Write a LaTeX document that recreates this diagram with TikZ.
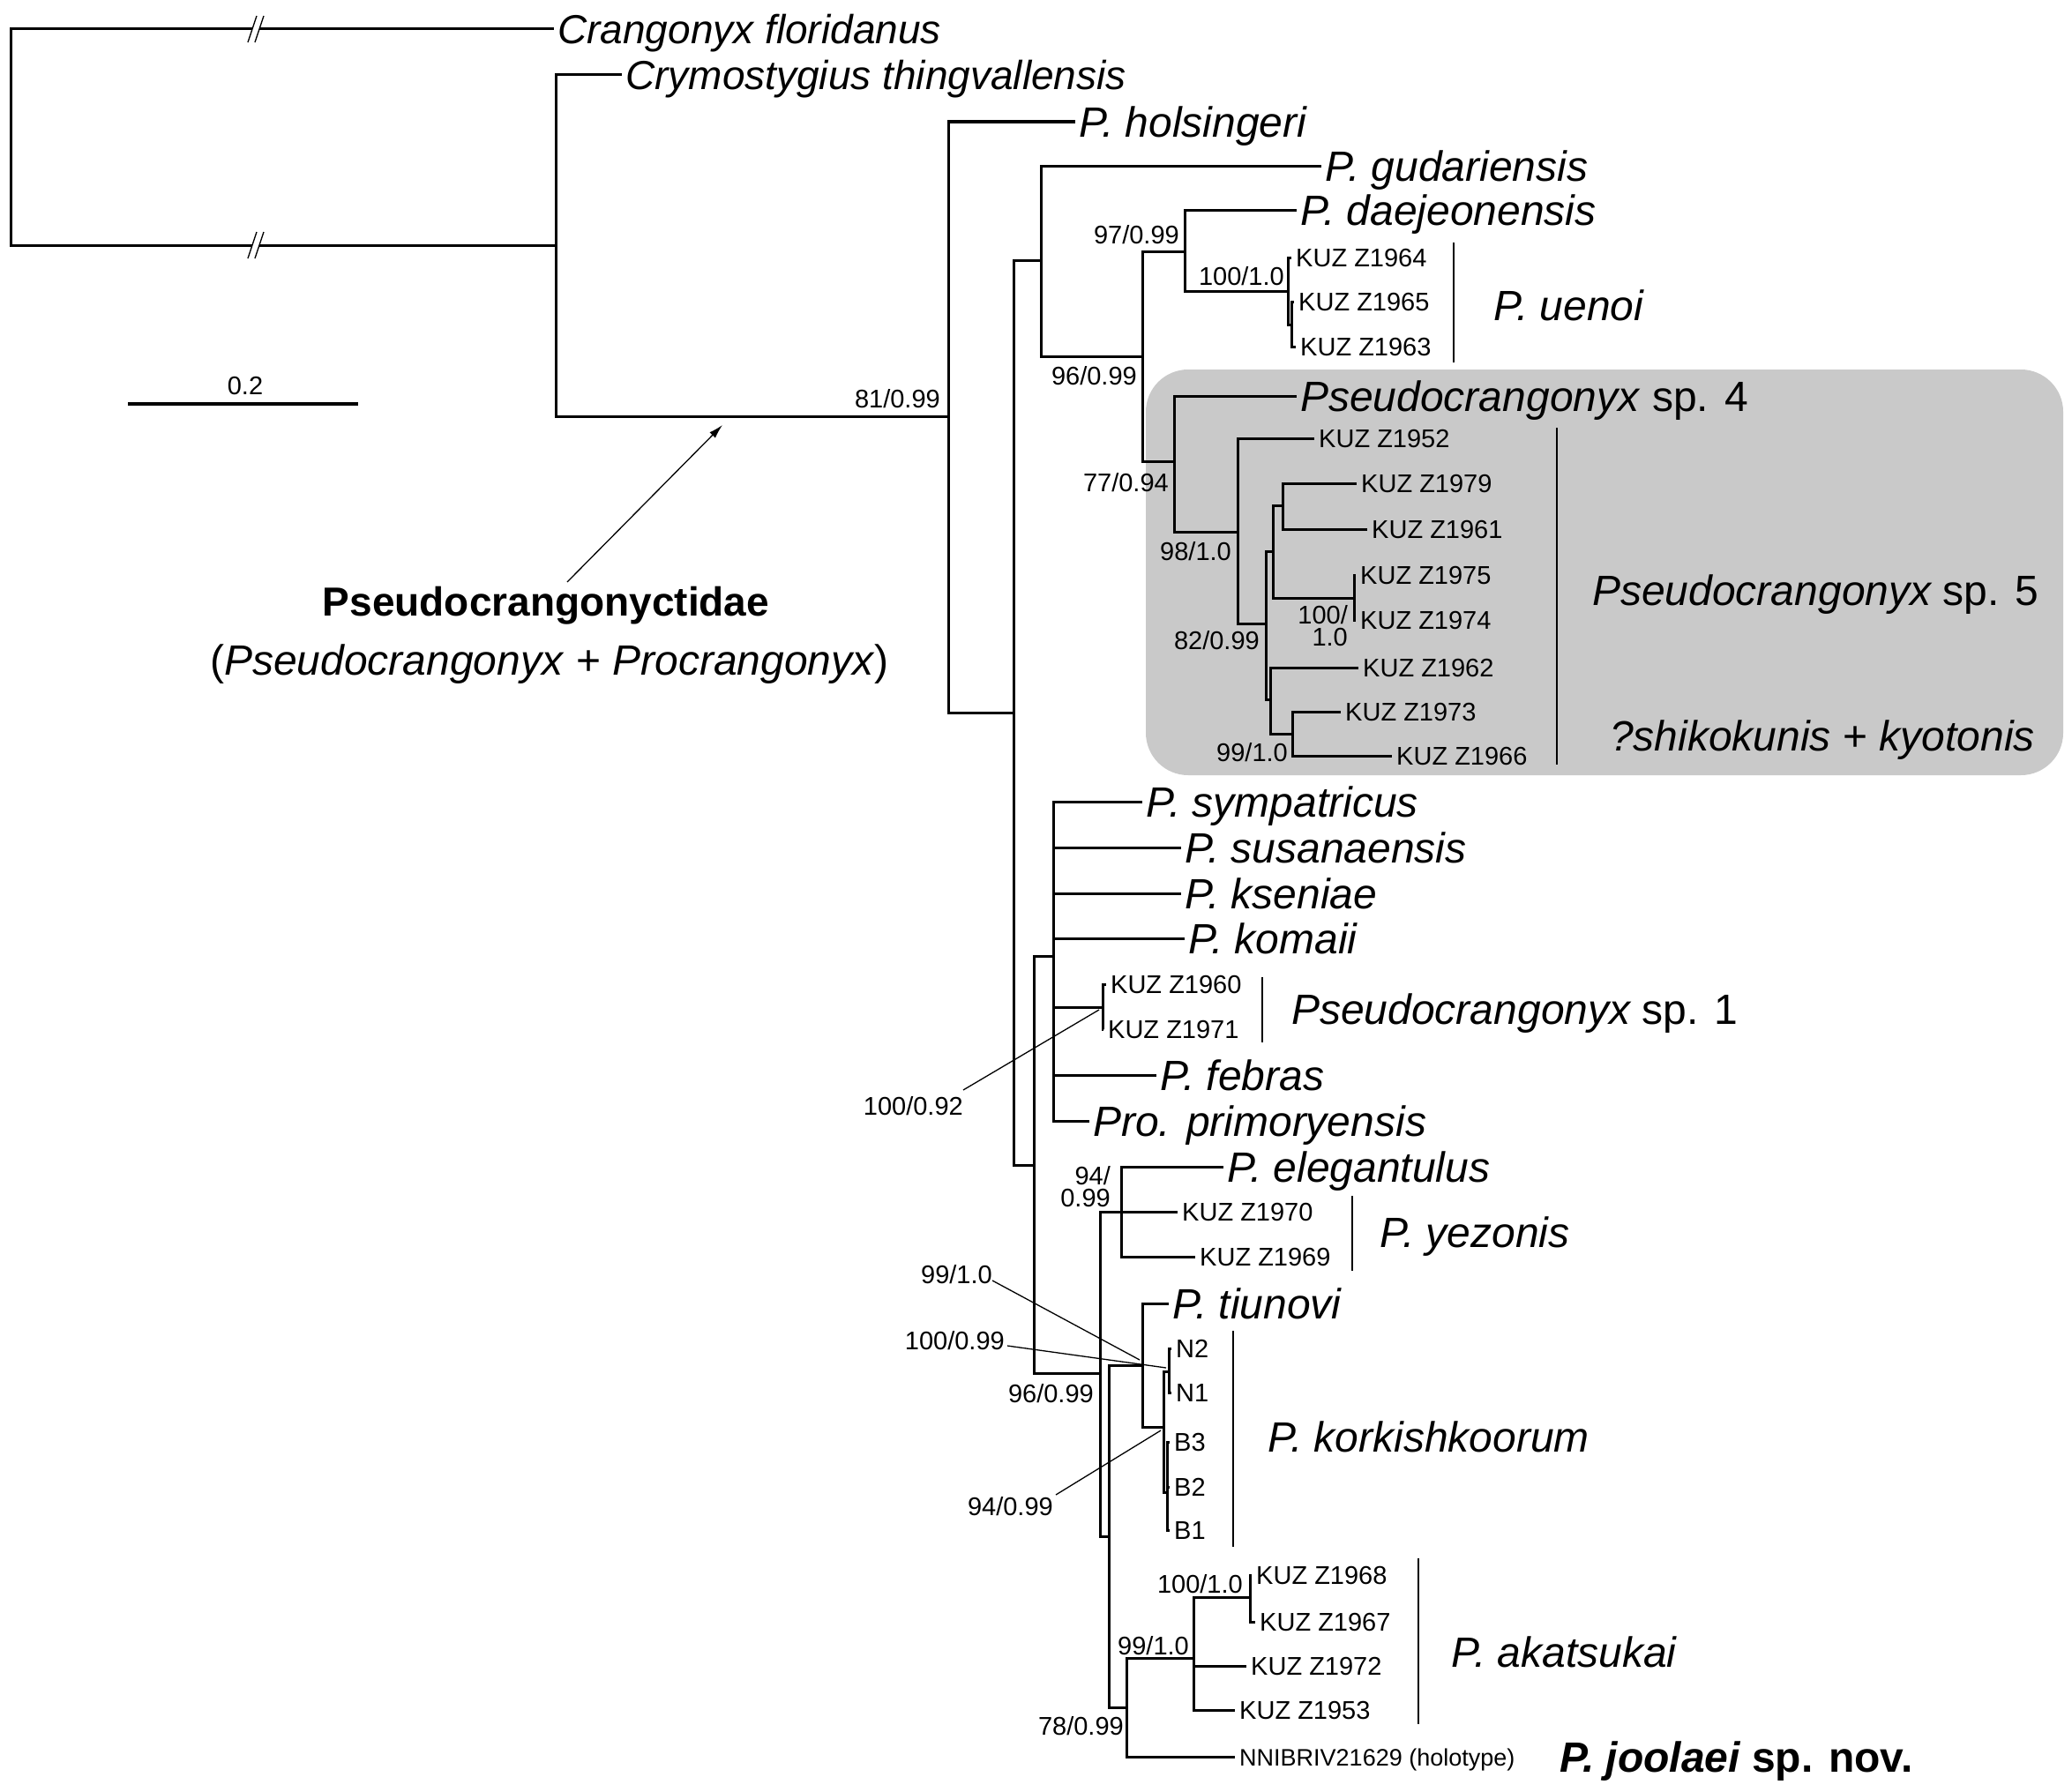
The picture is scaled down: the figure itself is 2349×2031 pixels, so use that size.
\documentclass[tikz,border=0pt]{standalone}
\usepackage{fontspec}
\setmainfont{Liberation Sans}
\usetikzlibrary{arrows.meta,calc}
\newcommand\myfA{\fontsize{48}{56}\selectfont}
\newcommand\myfB{\fontsize{46}{54}\selectfont}
\newcommand\myfS{\fontsize{29}{34}\selectfont}
\newcommand\myfT{\fontsize{27}{32}\selectfont}
\definecolor{boxgray}{RGB}{201,201,201}
\begin{document}
\begin{tikzpicture}[x=1pt,y=-1pt,
 br/.style={line width=3pt},
 cbar/.style={line width=1.6pt},
 lead/.style={line width=1.3pt},
 spA/.style={font=\myfA\itshape, anchor=west, inner xsep=4pt, inner ysep=0pt, text height=34pt, text depth=0pt},
 spB/.style={font=\myfB\itshape, anchor=west, inner xsep=4pt, inner ysep=0pt, text height=33pt, text depth=0pt},
 kuz/.style={font=\myfS, anchor=west, inner xsep=5pt, inner ysep=0pt, text height=21pt, text depth=0pt},
 sup/.style={font=\myfS, anchor=east, inner sep=0pt, text height=21pt, text depth=0pt},
 cladeL/.style={font=\myfA, anchor=west, inner sep=0pt, text height=34pt, text depth=0pt},
]
\useasboundingbox (0,0) rectangle (2349,2031);
% grey box
\fill[boxgray, rounded corners=48pt] (1299,419) rectangle (2339,879);

% ---------- internal nodes ----------
\coordinate (root) at (12,155);
\coordinate (nA) at (630,278);
\coordinate (nB) at (1075,472);
\coordinate (nC) at (1149,808);
\coordinate (nD) at (1180,295);
\coordinate (nE) at (1295,404);
\coordinate (nF) at (1343,285);
\coordinate (nG) at (1460,330);
\coordinate (nG2) at (1464,368);
\coordinate (nH) at (1331,523);
\coordinate (nI) at (1403,603);
\coordinate (nJ) at (1435,707);
\coordinate (nK) at (1443,625);
\coordinate (nL) at (1454,573);
\coordinate (nM) at (1535,678);
\coordinate (nN) at (1440,793);
\coordinate (nO) at (1465,832);
\coordinate (nP) at (1172,1321);
\coordinate (nQ) at (1194,1084);
\coordinate (nS1) at (1250,1142);
\coordinate (nR) at (1247,1557);
\coordinate (nT) at (1271,1374);
\coordinate (nU) at (1257,1742);
\coordinate (nV) at (1295,1548);
\coordinate (nW) at (1319,1618);
\coordinate (nX) at (1325,1555);
\coordinate (nY) at (1323,1692);
\coordinate (nZ) at (1277,1936);
\coordinate (nAA) at (1353,1880);
\coordinate (nAB) at (1417,1811);

% ---------- tips ----------
\node[spB] (tCra) at (628,33) {Crangonyx floridanus};
\node[spB] (tCry) at (705,85) {Crymostygius thingvallensis};
\node[spA] (tHol) at (1219,138) {P. holsingeri};
\node[spA] (tGud) at (1498,188) {P. gudariensis};
\node[spA] (tDae) at (1470,238) {P. daejeonensis};
\node[kuz] (tU64) at (1464,292) {KUZ Z1964};
\node[kuz] (tU65) at (1467,342) {KUZ Z1965};
\node[kuz] (tU63) at (1469,393) {KUZ Z1963};
\node[spA] (tSp4) at (1470,449) {Pseudocrangonyx \textup{sp. 4}};
\node[kuz] (t52) at (1490,497) {KUZ Z1952};
\node[kuz] (t79) at (1538,548) {KUZ Z1979};
\node[kuz] (t61) at (1550,600) {KUZ Z1961};
\node[kuz] (t75) at (1537,652) {KUZ Z1975};
\node[kuz] (t74) at (1537,703) {KUZ Z1974};
\node[kuz] (t62) at (1540,757) {KUZ Z1962};
\node[kuz] (t73) at (1520,807) {KUZ Z1973};
\node[kuz] (t66) at (1578,857) {KUZ Z1966};
\node[spA] (tSym) at (1295,909) {P. sympatricus};
\node[spA] (tSus) at (1339,961) {P. susanaensis};
\node[spA] (tKse) at (1339,1013) {P. kseniae};
\node[spA] (tKom) at (1343,1064) {P. komaii};
\node[kuz] (tS60) at (1254,1116) {KUZ Z1960};
\node[kuz] (tS71) at (1251,1167) {KUZ Z1971};
\node[spA] (tFeb) at (1311,1219) {P. febras};
\node[spA] (tPro) at (1235,1271) {Pro. primoryensis};
\node[spA] (tEle) at (1387,1323) {P. elegantulus};
\node[kuz] (tY70) at (1335,1374) {KUZ Z1970};
\node[kuz] (tY69) at (1355,1425) {KUZ Z1969};
\node[spA] (tTiu) at (1325,1478) {P. tiunovi};
\node[kuz] (tN2) at (1328,1529) {N2};
\node[kuz] (tN1) at (1328,1579) {N1};
\node[kuz] (tB3) at (1326,1635) {B3};
\node[kuz] (tB2) at (1326,1686) {B2};
\node[kuz] (tB1) at (1326,1735) {B1};
\node[kuz] (tA68) at (1419,1786) {KUZ Z1968};
\node[kuz] (tA67) at (1423,1839) {KUZ Z1967};
\node[kuz] (tA72) at (1413,1889) {KUZ Z1972};
\node[kuz] (tA53) at (1400,1939) {KUZ Z1953};
\node[kuz, font=\myfT, text height=20pt] (tJoo) at (1400,1992) {NNIBRIV21629 (holotype)};

% ---------- branches ----------
\draw[br] (root) |- (tCra.west);
\draw[br] (root) |- (nA);
\foreach \yy in {33,278} {
  \fill[white] (281,\yy+15) -- (291,\yy-15) -- (299,\yy-15) -- (289,\yy+15) -- cycle;
  \draw[lead] (281,\yy+15) -- (291,\yy-15);
  \draw[lead] (289,\yy+15) -- (299,\yy-15);
}
\draw[br] (nA) |- (tCry.west);
\draw[br] (nA) |- (nB);
\draw[br] (nB) |- (tHol.west);
\draw[br] (nB) |- (nC);
\draw[br] (nC) |- (nD);
\draw[br] (nC) |- (nP);
\draw[br] (nD) |- (tGud.west);
\draw[br] (nD) |- (nE);
\draw[br] (nE) |- (nF);
\draw[br] (nE) |- (nH);
\draw[br] (nF) |- (tDae.west);
\draw[br] (nF) |- (nG);
\draw[br] (nG) |- (tU64.west);
\draw[br] (nG) |- (nG2);
\draw[br] (nG2) |- (tU65.west);
\draw[br] (nG2) |- (tU63.west);
\draw[br] (nH) |- (tSp4.west);
\draw[br] (nH) |- (nI);
\draw[br] (nI) |- (t52.west);
\draw[br] (nI) |- (nJ);
\draw[br] (nJ) |- (nK);
\draw[br] (nJ) |- (nN);
\draw[br] (nK) |- (nL);
\draw[br] (nK) |- (nM);
\draw[br] (nL) |- (t79.west);
\draw[br] (nL) |- (t61.west);
\draw[br] (nM) |- (t75.west);
\draw[br] (nM) |- (t74.west);
\draw[br] (nN) |- (t62.west);
\draw[br] (nN) |- (nO);
\draw[br] (nO) |- (t73.west);
\draw[br] (nO) |- (t66.west);
\draw[br] (nP) |- (nQ);
\draw[br] (nP) |- (nR);
\draw[br] (nQ) |- (tSym.west);
\draw[br] (nQ) |- (tSus.west);
\draw[br] (nQ) |- (tKse.west);
\draw[br] (nQ) |- (tKom.west);
\draw[br] (nQ) |- (nS1);
\draw[br] (nQ) |- (tFeb.west);
\draw[br] (nQ) |- (tPro.west);
\draw[br] (nS1) |- (tS60.west);
\draw[br] (nS1) |- (tS71.west);
\draw[br] (nR) |- (nT);
\draw[br] (nR) |- (nU);
\draw[br] (nT) |- (tEle.west);
\draw[br] (nT) |- (tY70.west);
\draw[br] (nT) |- (tY69.west);
\draw[br] (nU) |- (nV);
\draw[br] (nU) |- (nZ);
\draw[br] (nV) |- (tTiu.west);
\draw[br] (nV) |- (nW);
\draw[br] (nW) |- (nX);
\draw[br] (nW) |- (nY);
\draw[br] (nX) |- (tN2.west);
\draw[br] (nX) |- (tN1.west);
\draw[br] (nY) |- (tB3.west);
\draw[br] (nY) |- (tB2.west);
\draw[br] (nY) |- (tB1.west);
\draw[br] (nZ) |- (nAA);
\draw[br] (nZ) |- (tJoo.west);
\draw[br] (nAA) |- (nAB);
\draw[br] (nAA) |- (tA72.west);
\draw[br] (nAA) |- (tA53.west);
\draw[br] (nAB) |- (tA68.west);
\draw[br] (nAB) |- (tA67.west);

% ---------- clade bars and labels ----------
\draw[cbar] (1648,275) -- (1648,411);
\node[cladeL, font=\myfA\itshape] (cUen) at (1693,346) {P. uenoi};
\draw[cbar] (1765,485) -- (1765,867);
\node[cladeL] (cSp5) at (1805,669) {\itshape Pseudocrangonyx\upshape{} sp. 5};
\node[cladeL] (cShi) at (1825,834) {\itshape ?shikokunis\upshape{} + \itshape kyotonis};
\draw[cbar] (1431,1108) -- (1431,1182);
\node[cladeL] (cSp1) at (1464,1144) {\itshape Pseudocrangonyx\upshape{} sp. 1};
\draw[cbar] (1533,1356) -- (1533,1441);
\node[cladeL, font=\myfA\itshape] (cYez) at (1564,1397) {P. yezonis};
\draw[cbar] (1398,1509) -- (1398,1754);
\node[cladeL, font=\myfA\itshape] (cKor) at (1437,1629) {P. korkishkoorum};
\draw[cbar] (1608,1767) -- (1608,1955);
\node[cladeL, font=\myfA\itshape] (cAka) at (1645,1873) {P. akatsukai};
\node[cladeL, font=\myfA\bfseries] (cJoo) at (1768,1992) {\itshape P. joolaei\upshape{} sp. nov.};

% ---------- support values ----------
\node[sup] (s81) at (1066,452) {81/0.99};
\node[sup] (s97) at (1337,266) {97/0.99};
\node[sup] (s100u) at (1456,313) {100/1.0};
\node[sup] (s96a) at (1289,426) {96/0.99};
\node[sup] (s77) at (1325,547) {77/0.94};
\node[sup] (s98) at (1396,625) {98/1.0};
\node[sup] (s82) at (1428,726) {82/0.99};
\node[sup] (s100a) at (1528,697) {100/};
\node[sup] (s100b) at (1528,722) {1.0};
\node[sup] (s99c) at (1460,853) {99/1.0};
\node[sup] (s100092) at (1092,1254) {100/0.92};
\node[sup] (s94a) at (1259,1333) {94/};
\node[sup] (s94b) at (1259,1358) {0.99};
\node[sup] (s99t) at (1125,1445) {99/1.0};
\node[sup] (s10099) at (1139,1520) {100/0.99};
\node[sup] (s96b) at (1240,1580) {96/0.99};
\node[sup] (s94k) at (1194,1708) {94/0.99};
\node[sup] (s100k) at (1409,1796) {100/1.0};
\node[sup] (s99k) at (1348,1866) {99/1.0};
\node[sup] (s78) at (1274,1957) {78/0.99};

% ---------- leaders ----------
\coordinate (q1a) at (1092,1236); \coordinate (q1b) at (1246,1145);
\coordinate (q2a) at (1125,1452); \coordinate (q2b) at (1292,1542);
\coordinate (q3a) at (1142,1526); \coordinate (q3b) at (1322,1551);
\coordinate (q4a) at (1197,1695); \coordinate (q4b) at (1316,1622);
\draw[lead] (q1a) -- (q1b);
\draw[lead] (q2a) -- (q2b);
\draw[lead] (q3a) -- (q3b);
\draw[lead] (q4a) -- (q4b);

% ---------- scale bar ----------
\coordinate (sbL) at (145,458); \coordinate (sbR) at (406,458);
\draw[line width=4pt] (sbL) -- (sbR);
\node[sup, anchor=center] (sbT) at (278,437) {0.2};

% ---------- family label and arrow ----------
\node[font=\myfB\bfseries, inner sep=0pt, text height=33pt, text depth=0pt] (fam) at (619,682) {Pseudocrangonyctidae};
\node[font=\myfA, inner sep=0pt, text height=34pt, text depth=0pt] (fam2) at (623,748) {(\textit{Pseudocrangonyx} + \textit{Procrangonyx})};
\coordinate (arS) at (643,660); \coordinate (arE) at (819,482);
\draw[lead, -{Latex[length=16pt,width=9pt]}] (arS) -- (arE);
\end{tikzpicture}
\end{document}
